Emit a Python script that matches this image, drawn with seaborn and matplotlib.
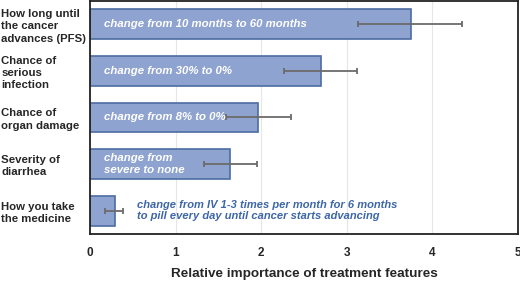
import numpy as np
import pandas as pd
import seaborn as sns
import matplotlib.pyplot as plt

features = ["How long until\nthe cancer\nadvances (PFS)", "Chance of\nserious\ninfection",
            "Chance of\norgan damage", "Severity of\ndiarrhea", "How you take\nthe medicine"]
importance = [3.75, 2.70, 1.96, 1.64, 0.29]
err_low = [3.13, 2.27, 1.585, 1.33, 0.175]
err_high = [4.34, 3.12, 2.35, 1.95, 0.385]
notes = ["change from 10 months to 60 months", "change from 30% to 0%", "change from 8% to 0%",
         "change from\nsevere to none",
         "change from IV 1-3 times per month for 6 months\nto pill every day until cancer starts advancing"]

sns.set_style("white")
plt.rcParams['font.family'] = ['Liberation Sans', 'DejaVu Sans']

df = pd.DataFrame({"feature": features, "importance": importance})

fig = plt.figure(figsize=(5.2, 2.82), dpi=100)
ax = fig.add_axes([90 / 520, 1 - 234 / 282, 428 / 520, 233 / 282])

sns.barplot(data=df, x="importance", y="feature", orient="h", color="#8fa3d0",
            saturation=1, width=0.64, edgecolor="#4d6ca3", linewidth=1.2, ax=ax)

ypos = np.arange(len(features))
lo = np.array(importance) - np.array(err_low)
hi = np.array(err_high) - np.array(importance)
ax.errorbar(importance, ypos, xerr=[lo, hi], fmt="none", ecolor="#6b6b6b",
            elinewidth=1.3, capsize=2.5, capthick=1.3)

for i, n in enumerate(notes):
    if i < 4:
        ax.text(0.16, i, n, color="white", fontsize=8.2, fontweight="bold",
                fontstyle="italic", va="center", ha="left", linespacing=1.2)
    else:
        ax.text(0.55, i, n, color="#3d66a8", fontsize=8.0, fontweight="bold",
                fontstyle="italic", va="center", ha="left", linespacing=1.15)

ax.set_xlim(0, 5)
ax.set_ylim(len(features) - 0.5, -0.5)
ax.set_xticks([0, 1, 2, 3, 4, 5])
ax.xaxis.grid(True, color="#e6e6e6", linewidth=0.8)
ax.set_axisbelow(True)
ax.set_xlabel("Relative importance of treatment features", fontsize=9.7, fontweight="bold", labelpad=7)
ax.set_ylabel("")

ax.set_yticks(ypos)
ax.set_yticklabels(features, ha="left", fontweight="bold", fontsize=8.2, linespacing=1.3)
ax.set_yticks(np.arange(-0.5, len(features), 1), minor=True)
ax.tick_params(axis="y", which="major", length=0, pad=64)
ax.tick_params(axis="y", which="minor", length=4, width=1.2, color="#222222", direction="out")
ax.tick_params(axis="x", length=4, width=1.2, color="#222222", direction="out", labelsize=8.5, pad=5)
for lab in ax.get_xticklabels():
    lab.set_fontweight("bold")

for s in ax.spines.values():
    s.set_color("#222222")
    s.set_linewidth(1.3)

fig.savefig("out.png", dpi=100)
